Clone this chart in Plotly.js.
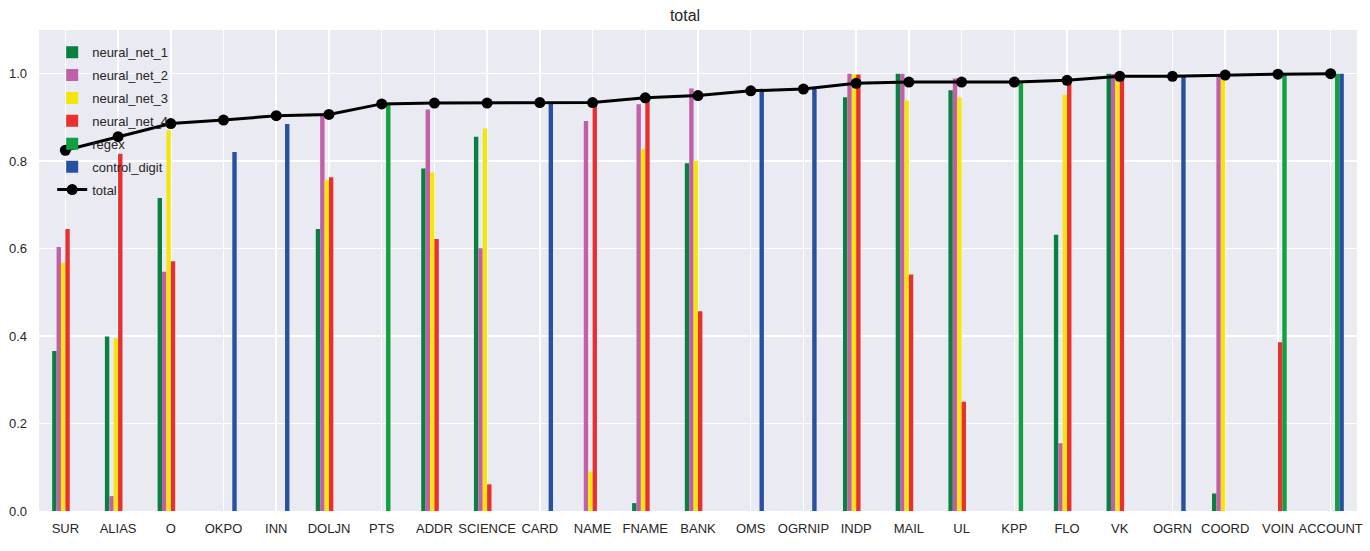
<!DOCTYPE html>
<html>
<head>
<meta charset="utf-8">
<script src="https://cdn.plot.ly/plotly-3.0.1.min.js"></script>
<style>html,body{margin:0;padding:0;background:#fff;}#chart{width:1370px;height:551px;}</style>
</head>
<body>
<div id="chart"></div>
<script>
const categories = ["SUR","ALIAS","O","OKPO","INN","DOLJN","PTS","ADDR","SCIENCE","CARD","NAME","FNAME","BANK","OMS","OGRNIP","INDP","MAIL","UL","KPP","FLO","VK","OGRN","COORD","VOIN","ACCOUNT"];
const neural_net_1 = [0.366,0.399,0.716,0,0,0.645,0,0.783,0.856,0,0,0.018,0.795,0,0,0.946,1.0,0.962,0,0.632,1.0,0,0.040,0,0];
const neural_net_2 = [0.604,0.034,0.547,0,0,0.909,0,0.918,0.601,0,0.892,0.930,0.966,0,0,1.0,1.0,0.989,0,0.155,1.0,0,0.997,0,0];
const neural_net_3 = [0.568,0.395,0.871,0,0,0.757,0,0.774,0.875,0,0.090,0.828,0.801,0,0,0.998,0.939,0.946,0,0.952,1.0,0,0.997,0,0];
const neural_net_4 = [0.645,0.817,0.571,0,0,0.763,0,0.622,0.061,0,0.926,0.939,0.457,0,0,0.998,0.541,0.250,0,0.992,1.0,0,0,0.386,0];
const regex = [0,0,0,0,0,0,0.930,0,0,0,0,0,0,0,0,0,0,0,0.981,0,0,0,0,0.999,1.0];
const control_digit = [0,0,0,0.821,0.885,0,0,0,0,0.932,0,0,0,0.962,0.968,0,0,0,0,0,0,0.994,0,0,1.0];
const total = [0.825,0.856,0.886,0.894,0.904,0.907,0.931,0.933,0.933,0.934,0.934,0.945,0.950,0.961,0.965,0.978,0.981,0.981,0.981,0.985,0.994,0.994,0.997,0.999,1.0];

const seriesNames = ["neural_net_1","neural_net_2","neural_net_3","neural_net_4","regex","control_digit"];
const seriesValues = [neural_net_1,neural_net_2,neural_net_3,neural_net_4,regex,control_digit];
const seriesColors = ["#0a8040","#c060a8","#f5e50f","#e83030","#10a040","#2850a0"];

const traces = seriesNames.map((n,i)=>({
  type:'bar', name:n, x:categories, y:seriesValues[i],
  marker:{color:seriesColors[i], line:{width:0}},
  legendgroup:n
}));
traces.push({
  type:'scatter', mode:'lines+markers', name:'total', x:categories, y:total,
  line:{color:'#000', width:3}, marker:{color:'#000', size:11},
  legendgroup:'total'
});

const layout = {
  width:1370, height:551,
  paper_bgcolor:'#fff', plot_bgcolor:'#eaeaf2',
  font:{family:'Liberation Sans, Arial, sans-serif', size:13, color:'#262626'},
  title:{text:'total', x:0.5, xanchor:'center', y:0.982, yanchor:'top', font:{size:16, color:'#262626'}},
  margin:{l:39, r:13, t:30, b:40},
  barmode:'group', bargap:0.5, bargroupgap:0,
  showlegend:true,
  legend:{x:0.01, y:0.985, xanchor:'left', yanchor:'top', bgcolor:'rgba(0,0,0,0)', borderwidth:0,
          font:{size:13, color:'#262626'}, traceorder:'grouped', tracegroupgap:3},
  xaxis:{type:'category', range:[-0.5,24.5], showgrid:true, gridcolor:'#ffffff', gridwidth:1.5,
         zeroline:false, ticks:'', tickfont:{size:13}, ticklabelstandoff:8, automargin:false},
  yaxis:{range:[0,1.1], dtick:0.2, tick0:0, tickformat:'.1f', showgrid:true, gridcolor:'#ffffff', gridwidth:1.5,
         zeroline:false, ticks:'', tickfont:{size:13}, ticklabelstandoff:11, automargin:false}
};
Plotly.newPlot('chart', traces, layout, {displayModeBar:false, staticPlot:true});
</script>
</body>
</html>
